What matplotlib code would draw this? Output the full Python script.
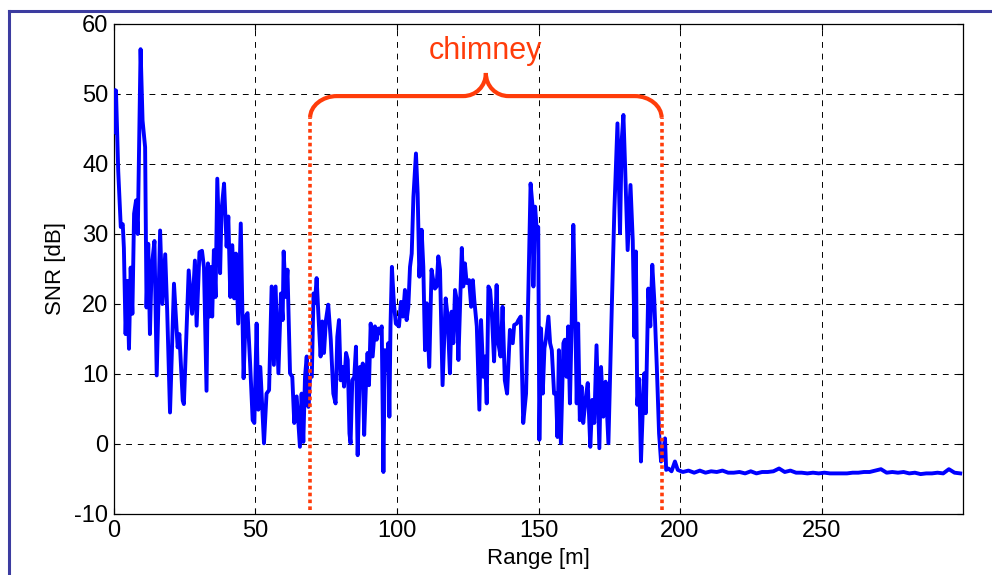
import numpy as np
import matplotlib.pyplot as plt
from matplotlib.path import Path
from matplotlib.patches import PathPatch
from matplotlib.lines import Line2D

plt.rcParams['font.family'] = ['Liberation Sans', 'DejaVu Sans']
plt.rcParams['axes.unicode_minus'] = False

# range [m] and SNR [dB]
range_m = [0.0, 0.35, 0.7, 1.5, 2.4, 3.1, 3.5, 4.1, 4.7, 5.3, 5.9, 6.5, 7.1, 7.8, 8.4, 9.4, 10.1, 11.0,
           11.5, 12.1, 12.7, 13.3, 14.3, 15.1, 16.3, 17.1, 18.1, 18.8, 19.8, 21.2, 22.5, 23.1, 24.3, 24.7,
           26.4, 27.6, 28.6, 29.2, 30.2, 31.1, 31.8, 32.7, 33.2, 33.6, 34.3, 34.7, 35.3, 35.9, 36.5, 37.5,
           38.0, 38.9, 39.8, 40.4, 41.1, 41.8, 42.5, 43.1, 43.9, 44.8, 45.8, 46.5, 47.2, 48.1, 49.0, 49.6,
           50.4, 51.0, 51.7, 53.0, 53.9, 54.8, 55.7, 56.5, 57.1, 58.1, 59.0, 59.6, 59.95, 60.7, 61.3, 62.2,
           63.0, 63.7, 64.55, 65.7, 66.3, 66.9, 67.5, 68.1, 68.7, 69.3, 69.9, 70.5, 71.0, 71.6, 72.2, 73.0,
           73.6, 74.2, 74.9, 75.7, 76.6, 77.5, 78.3, 78.9, 79.5, 80.1, 80.7, 81.3, 82.0, 82.6, 83.2, 83.6,
           84.2, 84.9, 85.5, 86.1, 86.9, 87.5, 87.9, 88.4, 89.0, 89.6, 90.1, 90.7, 91.4, 92.2, 92.8, 93.4,
           94.0, 94.6, 95.2, 95.7, 96.3, 96.9, 97.3, 97.7, 98.2, 98.9, 99.6, 100.7, 101.4, 102.1, 102.8,
           103.4, 104.0, 104.6, 105.2, 105.8, 106.7, 107.3, 107.9, 108.7, 109.3, 109.9, 110.5, 111.4, 112.2,
           112.8, 113.4, 114.0, 114.6, 115.2, 116.1, 117.2, 117.9, 118.7, 119.3, 119.9, 120.5, 121.1, 121.7,
           122.9, 123.4, 124.0, 124.6, 125.5, 126.2, 126.8, 127.3, 128.2, 129.1, 129.7, 130.5, 131.1, 131.7,
           132.3, 132.9, 133.5, 134.3, 135.2, 135.8, 136.6, 137.3, 138.1, 138.9, 139.9, 140.9, 141.4, 142.3,
           142.9, 143.7, 144.6, 145.6, 146.4, 147.2, 147.9, 148.2, 148.8, 149.3, 149.9, 150.3, 150.9, 151.5,
           152.1, 152.6, 153.5, 154.1, 154.7, 155.5, 156.2, 156.7, 157.2, 157.9, 158.8, 159.3, 159.9, 160.5,
           161.1, 161.7, 162.3, 162.9, 163.5, 164.0, 164.6, 165.2, 165.8, 166.6, 167.4, 168.3, 169.0, 169.7,
           170.5, 171.5, 172.1, 172.9, 173.7, 174.7, 175.9, 176.8, 177.9, 178.8, 179.4, 180.0, 180.6, 181.5,
           182.5, 183.3, 183.9, 184.4, 184.9, 185.6, 186.2, 186.8, 187.4, 187.9, 188.8, 189.5, 190.2, 190.9,
           191.8, 192.6, 193.3, 194.0, 194.7, 195.1, 195.9, 197.0, 198.2, 199.2]
snr_db = [50.5, 44.5, 50.5, 39.0, 31.0, 31.4, 28.0, 15.7, 23.3, 13.6, 25.2, 18.6, 32.9, 34.8, 30.0, 56.4, 46.2, 42.4,
          19.5, 28.6, 15.7, 25.2, 29.0, 9.8, 30.5, 20.0, 27.1, 19.0, 4.5, 22.9, 13.8, 15.7, 6.2, 5.7,
          24.8, 18.6, 26.2, 16.9, 27.4, 27.6, 25.2, 7.6, 25.8, 18.2, 25.3, 18.2, 27.7, 21.0, 37.9, 24.4,
          33.4, 37.2, 28.2, 32.5, 21.0, 28.4, 20.8, 27.2, 17.2, 31.5, 9.4, 18.2, 18.7, 11.5, 3.4, 3.0,
          17.2, 4.9, 11.0, 0.1, 7.2, 7.7, 22.5, 11.3, 22.5, 10.1, 21.5, 17.7, 27.5, 21.0, 24.9, 10.1,
          9.6, 3.0, 6.8, -0.4, 7.2, 0.3, 9.6, 12.5, 5.3, 9.6, 9.6, 21.5, 20.1, 23.7, 18.7, 12.5,
          17.5, 13.0, 17.7, 19.9, 14.9, 7.2, 5.8, 15.3, 17.7, 9.1, 11.0, 8.2, 13.0, 12.0, 1.5, 0.1,
          9.1, 9.6, 13.9, -1.6, 11.0, 8.7, 11.5, 1.3, 8.2, 13.0, 8.4, 17.2, 12.5, 16.8, 14.9, 16.5,
          15.8, 16.8, -4.0, 13.4, 10.6, 14.4, 3.9, 16.8, 25.3, 20.1, 17.2, 16.8, 20.3, 18.2, 22.0,
          17.7, 19.6, 25.3, 27.2, 35.3, 41.5, 35.8, 23.9, 30.6, 25.3, 13.4, 20.1, 11.0, 24.9,
          23.4, 22.2, 22.5, 26.8, 24.9, 8.4, 20.8, 18.2, 10.1, 18.9, 14.4, 22.0, 20.6, 12.0,
          28.0, 22.5, 25.8, 23.0, 23.4, 19.6, 23.4, 20.6, 16.8, 4.9, 17.7, 9.6, 12.5, 5.8,
          22.5, 22.0, 18.7, 11.8, 22.7, 14.4, 12.5, 19.6, 9.1, 7.2, 16.3, 14.4, 17.0, 17.2,
          17.7, 18.2, 3.0, 7.2, 21.5, 37.2, 33.9, 22.5, 33.9, 31.0, 31.0, 0.6, 16.5, 7.2,
          13.7, 14.9, 18.2, 14.4, 13.4, 7.2, 7.2, 1.0, 13.4, 0.1, 14.4, 14.9, 9.6, 16.8,
          5.8, 16.8, 31.3, 20.6, 5.8, 17.2, 3.4, 8.2, 3.0, 6.3, 8.7, -0.4, 6.3, 3.0,
          14.1, -0.6, 11.0, 3.9, 8.9, 0.1, 19.6, 33.4, 45.8, 30.1, 43.4, 47.0, 39.6, 27.7,
          37.0, 29.1, 15.3, 27.5, 5.6, 9.3, -2.5, 4.4, 10.1, 4.4, 22.2, 16.8, 25.6, 20.6,
          11.0, 1.5, -2.5, -1.2, 0.8, -3.7, -3.5, -3.9, -2.5, -3.7]

# noise floor beyond the chimney, every 2 m from 201 m
tail_range = np.arange(201, 300, 2)
tail_snr = [-4.0, -3.8, -4.1, -3.8, -4.1, -3.9, -4.0, -3.8, -4.1, -4.1, -4.0, -4.2, -3.9, -4.2, -4.0, -4.0,
            -3.9, -3.5, -4.0, -3.8, -4.1, -4.1, -4.2, -4.1, -4.2, -4.1, -4.2, -4.2, -4.2, -4.2, -4.1, -4.1,
            -4.0, -4.0, -3.8, -3.6, -4.1, -4.0, -4.1, -4.0, -4.2, -4.1, -4.3, -4.2, -4.2, -4.1, -4.2, -3.6,
            -4.1, -4.2]

chimney_start, chimney_end = 69.3, 193.5
red = '#ff3c0a'

fig = plt.figure(figsize=(9.92, 5.75), dpi=100)
ax = fig.add_axes([0.1149, 0.1061, 0.8559, 0.8522])

x = np.concatenate([range_m, tail_range])
y = np.concatenate([snr_db, tail_snr])
ax.plot(x, y, color='#0000ff', lw=2.8, zorder=3)

# chimney boundaries
for xc in (chimney_start, chimney_end):
    ax.plot([xc, xc], [-9.4, 46.6], color=red, lw=2.6, linestyle=(0, (1, 0.9)), zorder=4)

# curly brace over the chimney
x0, x1 = chimney_start, chimney_end
xm = (x0 + x1) / 2
yb, ye, yt = 49.7, 46.6, 53.0
verts = [(x0, ye), (x0, ye + 1.7), (x0 + 4.3, yb), (x0 + 9.5, yb),
         (xm - 8, yb),
         (xm - 3.6, yb), (xm, yb + 1.4), (xm, yt),
         (xm, yb + 1.4), (xm + 3.6, yb), (xm + 8, yb),
         (x1 - 9.5, yb),
         (x1 - 4.3, yb), (x1, ye + 1.7), (x1, ye)]
codes = [Path.MOVETO, Path.CURVE4, Path.CURVE4, Path.CURVE4,
         Path.LINETO,
         Path.CURVE4, Path.CURVE4, Path.CURVE4,
         Path.CURVE4, Path.CURVE4, Path.CURVE4,
         Path.LINETO,
         Path.CURVE4, Path.CURVE4, Path.CURVE4]
ax.add_patch(PathPatch(Path(verts, codes), facecolor='none', edgecolor=red, lw=3, zorder=4))
ax.text(xm, 56.2, 'chimney', color=red, fontsize=22, ha='center', va='center')

ax.set_xlim(0, 300)
ax.set_ylim(-10, 60)
ax.set_xticks(np.arange(0, 251, 50))
ax.set_yticks(np.arange(-10, 61, 10))
ax.grid(True, color='k', linestyle=(0, (6, 6)), lw=0.7)
ax.tick_params(direction='in', top=True, right=True, length=4, labelsize=17, pad=4)
for s in ax.spines.values():
    s.set_linewidth(0.9)
ax.set_xlabel('Range [m]', fontsize=16, labelpad=5)
ax.set_ylabel('SNR [dB]', fontsize=16, labelpad=6)

# slide frame
fc = '#3c3ca0'
fig.add_artist(Line2D([9 / 992, 9 / 992], [0, 1 - 11 / 575], color=fc, lw=2.2, transform=fig.transFigure))
fig.add_artist(Line2D([9 / 992, 1], [1 - 11 / 575, 1 - 11 / 575], color=fc, lw=2.2, transform=fig.transFigure))

fig.savefig('out.png', dpi=100)
